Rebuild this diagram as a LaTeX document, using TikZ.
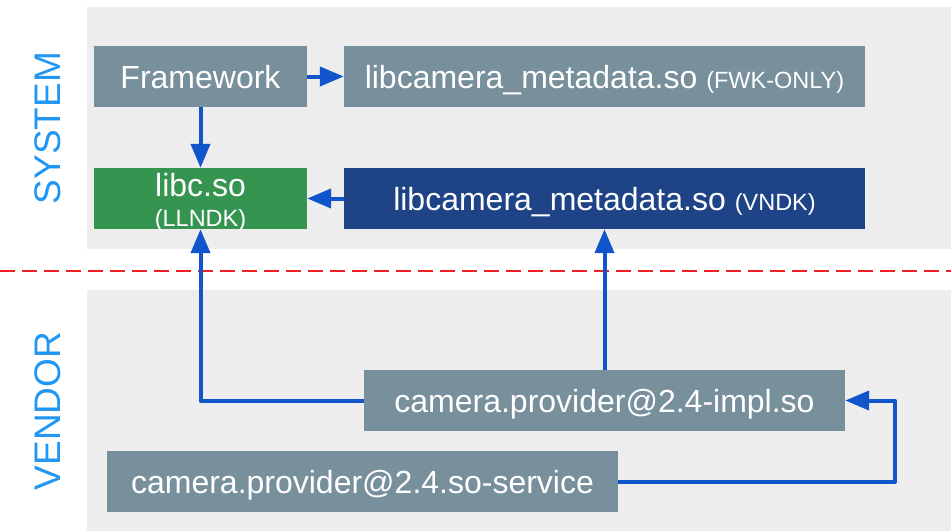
\documentclass[tikz,border=0pt]{standalone}
\usepackage{fontspec}
\setmainfont{Liberation Sans}
\usetikzlibrary{arrows.meta}
\definecolor{panelgray}{RGB}{237,237,237}
\definecolor{boxgray}{RGB}{120,144,156}
\definecolor{boxgreen}{RGB}{53,148,80}
\definecolor{boxnavy}{RGB}{30,68,135}
\definecolor{linkblue}{RGB}{17,85,204}
\definecolor{tierblue}{RGB}{33,150,243}
\definecolor{splitred}{RGB}{238,32,36}
\tikzset{
  modbox/.style={fill=boxgray, text=white, inner sep=0pt, minimum height=61pt,
    text height=24.5pt, text depth=0pt, font=\fontsize{32}{36}\selectfont},
  dep/.style={draw=linkblue, line width=4pt, line join=round,
    -{Triangle[length=24pt,width=19pt]}},
  tier/.style={rotate=90, text=tierblue, font=\fontsize{37}{40}\selectfont},
  note/.style={font=\fontsize{23.5}{26}\selectfont},
}
\newcommand{\modnote}[1]{{\fontsize{23.5}{26}\selectfont #1}}
\begin{document}
\begin{tikzpicture}[x=1pt, y=-1pt]
  \useasboundingbox (0,0) rectangle (951,531);
  % system and vendor partitions
  \fill[panelgray] (87,7) rectangle (951,249);
  \fill[panelgray] (87,290) rectangle (951,531);
  \draw[splitred, line width=2.5pt, dash pattern=on 15pt off 7pt] (0,271) -- (951,271);

  \node[tier] (system) at (48,128) {SYSTEM};
  \node[tier] (vendor) at (48,411) {VENDOR};

  % modules
  \node[modbox, minimum width=213pt] (fw) at (200.5,76.5) {Framework};
  \node[modbox, minimum width=521pt] (fwk) at (604.5,76.5)
    {libcamera\_metadata.so \modnote{(FWK-ONLY)}};
  \node[modbox, fill=boxgreen, minimum width=213pt] (libc) at (200.5,198.5) {};
  \node[modbox, fill=none, anchor=base] (libcname) at (200.5,196) {libc.so};
  \node[modbox, fill=none, note, anchor=base] (libcnote) at (200.5,226) {(LLNDK)};
  \node[modbox, fill=boxnavy, minimum width=521pt] (vndk) at (604.5,198.5)
    {libcamera\_metadata.so \modnote{(VNDK)}};
  \node[modbox, minimum width=481pt] (impl) at (604.5,400.5) {camera.provider@2.4-impl.so};
  \node[modbox, minimum width=511pt] (svc) at (362.5,481.5) {camera.provider@2.4.so-service};

  % dependencies
  \draw[dep] (fw.east) -- (fwk.west);
  \draw[dep] (fw.south) -- (libc.north);
  \draw[dep] (vndk.west) -- (libc.east);
  \draw[dep] (impl.north) -- (vndk.south);
  \draw[dep] (impl.west) -| (libc.south);
  \coordinate (svcturn) at (895,481.5);
  \draw[dep] (svc.east) -- (svcturn) |- (impl.east);
\end{tikzpicture}
\end{document}
